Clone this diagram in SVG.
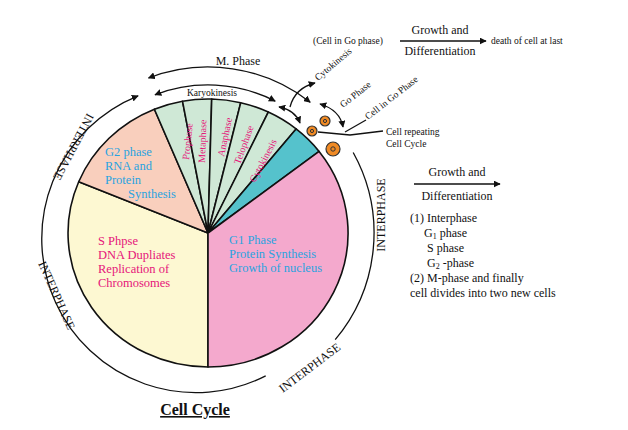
<svg xmlns="http://www.w3.org/2000/svg" width="628" height="430" viewBox="0 0 628 430">
<defs>
<marker id="ah" viewBox="0 0 10 10" refX="9" refY="5" markerWidth="7" markerHeight="7" orient="auto-start-reverse" markerUnits="userSpaceOnUse"><path d="M0,0 L10,5 L0,10 z" fill="#111"/></marker>
</defs>
<style>
text{font-family:"Liberation Serif","Times New Roman",serif;fill:#111}
.s{stroke:#111;stroke-width:1.6;stroke-linejoin:round}
.ln{fill:none;stroke:#111;stroke-width:1.3}
.blue{fill:#29a3e0;font-size:12.5px}
.mag{fill:#e6157a;font-size:12.5px}
.gl{fill:#e6157a;font-size:10px}
.lab{font-size:12px}
.sm{font-size:9.5px}
.cell{fill:#f08a24;stroke:#333;stroke-width:1.2}
</style>
<rect width="628" height="430" fill="#fff"/>
<g id="pie">
<path class="s" fill="#fdf8d2" d="M208,233 L208,367 A140,134 0 0 1 78.7,181.7 Z"/>
<path class="s" fill="#f9cfbd" d="M208,233 L78.7,181.7 A140,134 0 0 1 154.4,109.2 Z"/>
<path class="s" fill="#cfe8d6" d="M208,233 L154.4,109.2 A140,134 0 0 1 182.5,101.2 Z"/>
<path class="s" fill="#cfe8d6" d="M208,233 L182.5,101.2 A140,134 0 0 1 211.7,99 Z"/>
<path class="s" fill="#cfe8d6" d="M208,233 L211.7,99 A140,134 0 0 1 240.7,102.7 Z"/>
<path class="s" fill="#cfe8d6" d="M208,233 L240.7,102.7 A140,134 0 0 1 268.3,112.1 Z"/>
<path class="s" fill="#cfe8d6" d="M208,233 L268.3,112.1 A140,134 0 0 1 296.1,128.9 Z"/>
<path class="s" fill="#55c2cc" d="M208,233 L296.1,128.9 A140,134 0 0 1 319.1,151.4 Z"/>
<path class="s" fill="#f4a9cd" d="M208,233 L319.1,151.4 A140,134 0 0 1 208,367 Z"/>
</g>
<g id="labels-in">
<text class="blue" x="105" y="156">G2 phase</text>
<text class="blue" x="105" y="170">RNA and</text>
<text class="blue" x="105" y="184">Protein</text>
<text class="blue" x="128" y="198">Synthesis</text>
<text class="mag" x="98" y="245">S Phpse</text>
<text class="mag" x="98" y="259">DNA Dupliates</text>
<text class="mag" x="98" y="273">Replication of</text>
<text class="mag" x="98" y="287">Chromosomes</text>
<text class="blue" x="229" y="244">G1 Phase</text>
<text class="blue" x="229" y="258">Protein Synthesis</text>
<text class="blue" x="229" y="272">Growth of nucleus</text>
<text class="gl" transform="translate(189,160) rotate(-84)">Prophase</text>
<text class="gl" transform="translate(205,163) rotate(-88)">Metaphase</text>
<text class="gl" transform="translate(224,157) rotate(-78)">Anaphase</text>
<text class="gl" transform="translate(240,165) rotate(-70)">Telophase</text>
<text class="gl" transform="translate(255,183) rotate(-62)">Cytokinesis</text>
</g>
<g id="connectors">
<path class="ln" marker-start="url(#ah)" marker-end="url(#ah)" d="M155,94.8 A148,148 0 0 1 275.2,101.1"/>
<path class="ln" marker-start="url(#ah)" marker-end="url(#ah)" d="M148.5,78 A166,166 0 0 1 310.2,102.2"/>
<path class="ln" marker-start="url(#ah)" d="M138.1,95.8 A154,154 0 1 0 265.7,375.8"/>
<path class="ln" d="M353.2,152.5 A166,166 0 0 1 335.2,339.7"/>
<path class="ln" marker-start="url(#ah)" marker-end="url(#ah)" d="M279,107 Q295,110 300,123"/>
<path class="ln" marker-end="url(#ah)" d="M290,107 Q295,88 315,83"/>
<path class="ln" marker-start="url(#ah)" marker-end="url(#ah)" d="M320,104 Q340,110 343,127"/>
<path class="ln" d="M345,132 L366,120"/>
<path class="ln" d="M318,132 L350,135 L383,131"/>
<path class="ln" marker-end="url(#ah)" d="M400,41 L486,41"/>
<path class="ln" marker-end="url(#ah)" d="M414,184 L500,184"/>
</g>
<g id="cells">
<circle class="cell" cx="312" cy="131" r="5"/><circle cx="312" cy="131" r="1.6" fill="none" stroke="#333"/>
<circle class="cell" cx="325" cy="121" r="5"/><circle cx="325" cy="121" r="1.6" fill="none" stroke="#333"/>
<circle class="cell" cx="333" cy="149" r="7"/><circle cx="333" cy="149" r="2.2" fill="none" stroke="#333"/>
</g>
<g id="labels-out">
<text class="lab" x="238" y="65" text-anchor="middle">M. Phase</text>
<text class="sm" x="212" y="96" text-anchor="middle">Karyokinesis</text>
<text class="sm" transform="translate(318,81) rotate(-40)">Cytokinesis</text>
<text class="sm" transform="translate(343,108) rotate(-38)">Go Phase</text>
<text class="sm" transform="translate(368,120) rotate(-38)">Cell in Go Phase</text>
<text class="sm" x="386" y="135">Cell repeating</text>
<text class="sm" x="386" y="147">Cell Cycle</text>
<text class="lab" transform="translate(70,145) rotate(118)" text-anchor="middle">INTERPHASE</text>
<text class="lab" transform="translate(53,297) rotate(66)" text-anchor="middle">INTERPHASE</text>
<text class="lab" transform="translate(385,215) rotate(-90)" text-anchor="middle">INTERPHASE</text>
<text class="lab" transform="translate(312,371) rotate(-37)" text-anchor="middle">INTERPHASE</text>
<text class="sm" x="313" y="44">(Cell in Go phase)</text>
<text class="lab" x="440" y="34" text-anchor="middle">Growth and</text>
<text class="lab" x="440" y="55" text-anchor="middle">Differentiation</text>
<text class="sm" x="491" y="44">death of cell at last</text>
<text class="lab" x="457" y="176" text-anchor="middle">Growth and</text>
<text class="lab" x="457" y="200" text-anchor="middle">Differentiation</text>
<text class="lab" x="410" y="222">(1) Interphase</text>
<text class="lab" x="424" y="237">G<tspan font-size="8" dy="2">1</tspan><tspan dy="-2"> phase</tspan></text>
<text class="lab" x="427" y="252">S phase</text>
<text class="lab" x="427" y="267">G<tspan font-size="8" dy="2">2</tspan><tspan dy="-2"> -phase</tspan></text>
<text class="lab" x="410" y="282">(2)  M-phase and finally</text>
<text class="lab" x="410" y="297">cell divides into two new cells</text>
<text x="195" y="415" text-anchor="middle" font-size="16" font-weight="bold" text-decoration="underline">Cell Cycle</text>
</g>
</svg>
